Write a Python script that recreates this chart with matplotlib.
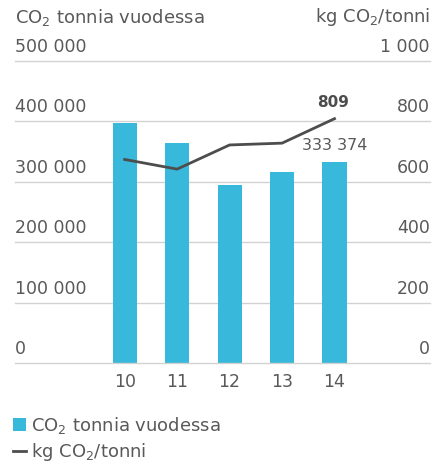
import matplotlib
matplotlib.use('Agg')
import matplotlib.pyplot as plt

years = [10, 11, 12, 13, 14]
co2_tonnes = [398000, 364000, 294500, 316000, 333374]
kg_per_tonne = [674, 642, 722, 728, 809]
left_ticks = [0, 100000, 200000, 300000, 400000, 500000]
right_ticks = [0, 200, 400, 600, 800, 1000]

BAR = '#38b9db'
LINE = '#4d4d4d'
TXT = '#595959'
GRID = '#d2d2d2'

plt.rcParams['font.family'] = ['DejaVu Sans']
plt.rcParams['mathtext.default'] = 'regular'


def fmt(v):
    return f'{v:,}'.replace(',', ' ')


W, H = 437, 463
fig = plt.figure(figsize=(W / 100, H / 100), dpi=100)
ax = fig.add_axes([15 / W, (H - 363) / H, 415 / W, 302 / H])
ax.bar(years, co2_tonnes, width=0.46, color=BAR, zorder=2, label='CO$_2$ tonnia vuodessa')
ax.set_xlim(7.91, 15.82)
ax.set_ylim(0, 500000)
for v in left_ticks:
    ax.axhline(v, color=GRID, lw=1, zorder=1 if v else 3, clip_on=False)
    ax.annotate(fmt(v), (0, v), xycoords=ax.get_yaxis_transform(),
                xytext=(0, 6.5), textcoords='offset points',
                ha='left', va='baseline', fontsize=12.5, color=TXT)
ax.set_yticks([])
ax.set_xticks(years)
ax.set_xticklabels([str(y) for y in years], fontsize=12.5, color=TXT)
ax.tick_params(axis='x', length=0, pad=7)
for s in ax.spines.values():
    s.set_visible(False)

ax2 = ax.twinx()
ax2.plot(years, kg_per_tonne, color=LINE, lw=2, zorder=3, label='kg CO$_2$/tonni')
ax2.set_ylim(0, 1000)
ax2.set_yticks([])
for s in ax2.spines.values():
    s.set_visible(False)
for v in right_ticks:
    ax2.annotate(fmt(v), (1, v), xycoords=ax2.get_yaxis_transform(),
                 xytext=(0, 6.5), textcoords='offset points',
                 ha='right', va='baseline', fontsize=12.5, color=TXT)

ax2.annotate(str(kg_per_tonne[-1]), (years[-1], kg_per_tonne[-1]),
             xytext=(-1, 6), textcoords='offset points', ha='center', va='bottom',
             fontsize=11, fontweight='bold', color=LINE)
ax.annotate(fmt(co2_tonnes[-1]), (years[-1], co2_tonnes[-1]),
            xytext=(0, 6), textcoords='offset points', ha='center', va='bottom',
            fontsize=11.5, color=TXT)

fig.text(15 / W, 1 - 17 / H, 'CO$_2$ tonnia vuodessa', ha='left', va='center',
         fontsize=13, color=TXT)
fig.text(430 / W, 1 - 17 / H, 'kg CO$_2$/tonni', ha='right', va='center',
         fontsize=13, color=TXT)

h1, l1 = ax.get_legend_handles_labels()
h2, l2 = ax2.get_legend_handles_labels()
leg = fig.legend(h1 + h2, l1 + l2, loc='upper left', bbox_to_anchor=(13 / W, 1 - 415 / H),
                 frameon=False, fontsize=13, handlelength=0.7, handleheight=0.7,
                 handletextpad=0.3, labelspacing=0.3, borderaxespad=0, borderpad=0)
for t in leg.get_texts():
    t.set_color(TXT)

fig.savefig('out.png', dpi=100)
